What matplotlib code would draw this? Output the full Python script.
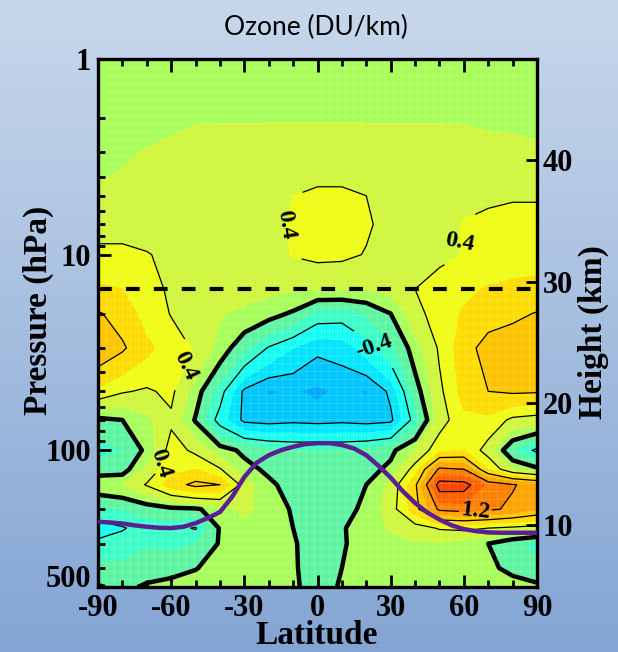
import numpy as np
import matplotlib
matplotlib.use("Agg")
import matplotlib.pyplot as plt
from matplotlib.ticker import FixedLocator, NullFormatter, FixedFormatter
from matplotlib.colors import LinearSegmentedColormap

plt.rcParams['font.family'] = ['Liberation Serif', 'DejaVu Serif']
plt.rcParams['font.weight'] = 'bold'
plt.rcParams['axes.unicode_minus'] = False
plt.rcParams['contour.negative_linestyle'] = 'solid'

# ---------------- data ----------------
lats = [-90, -80, -70, -60, -50, -40, -30, -20, -10, 0, 10, 20, 30, 40, 50, 60, 70, 80, 90]
pressure = [1, 2, 3, 5, 7, 10, 15, 20, 30, 50, 70, 100, 125, 150, 200, 250, 300, 400, 500]

ozone = [
    # -90   -80   -70   -60   -50   -40   -30   -20   -10    0     10    20    30    40    50    60    70    80    90
    [0.10, 0.10, 0.11, 0.11, 0.12, 0.12, 0.12, 0.12, 0.12, 0.12, 0.12, 0.12, 0.12, 0.12, 0.12, 0.12, 0.12, 0.11, 0.11],  # 1
    [0.13, 0.14, 0.15, 0.17, 0.19, 0.19, 0.19, 0.19, 0.19, 0.19, 0.19, 0.19, 0.19, 0.19, 0.19, 0.19, 0.18, 0.18, 0.17],  # 2
    [0.16, 0.18, 0.21, 0.23, 0.25, 0.26, 0.26, 0.27, 0.28, 0.28, 0.28, 0.27, 0.26, 0.26, 0.26, 0.25, 0.24, 0.23, 0.22],  # 3
    [0.22, 0.24, 0.27, 0.29, 0.30, 0.30, 0.31, 0.34, 0.40, 0.44, 0.44, 0.40, 0.34, 0.32, 0.32, 0.36, 0.38, 0.39, 0.39],  # 5
    [0.34, 0.34, 0.33, 0.32, 0.32, 0.32, 0.32, 0.35, 0.42, 0.47, 0.47, 0.42, 0.35, 0.33, 0.34, 0.41, 0.43, 0.44, 0.44],  # 7
    [0.44, 0.44, 0.41, 0.36, 0.33, 0.32, 0.32, 0.34, 0.41, 0.45, 0.44, 0.39, 0.34, 0.33, 0.35, 0.41, 0.46, 0.48, 0.50],  # 10
    [0.64, 0.60, 0.47, 0.37, 0.32, 0.30, 0.28, 0.25, 0.22, 0.20, 0.20, 0.20, 0.26, 0.40, 0.50, 0.56, 0.62, 0.66, 0.68],  # 15
    [0.82, 0.72, 0.52, 0.39, 0.30, 0.22, 0.15, 0.08, -0.03, -0.28, -0.30, -0.18, 0.00, 0.33, 0.50, 0.62, 0.72, 0.76, 0.81],  # 20
    [0.95, 0.83, 0.65, 0.50, 0.38, 0.12, -0.15, -0.42, -0.60, -0.75, -0.72, -0.50, -0.25, 0.10, 0.43, 0.72, 0.88, 0.92, 0.95],  # 30
    [0.55, 0.42, 0.37, 0.45, 0.10, -0.30, -0.85, -1.02, -0.98, -1.05, -0.95, -1.02, -0.75, -0.10, 0.35, 0.68, 0.80, 0.83, 0.82],  # 50
    [-0.05, 0.00, 0.15, 0.36, -0.02, -0.50, -0.85, -0.88, -0.85, -0.87, -0.85, -0.88, -0.85, -0.30, 0.30, 0.55, 0.55, 0.35, 0.30],  # 70
    [-0.30, -0.20, 0.05, 0.50, 0.35, 0.10, -0.05, -0.15, -0.20, -0.20, -0.20, -0.15, -0.05, 0.20, 0.55, 0.60, 0.30, -0.20, -0.45],  # 100
    [-0.10, -0.10, 0.25, 0.55, 0.60, 0.42, 0.08, -0.05, -0.15, -0.15, -0.15, -0.08, 0.05, 0.50, 1.25, 1.20, 0.60, 0.20, 0.05],  # 125
    [0.15, 0.20, 0.42, 0.70, 0.86, 0.80, 0.30, 0.05, -0.10, -0.12, -0.10, 0.00, 0.25, 0.75, 1.72, 1.70, 1.35, 1.22, 1.10],  # 150
    [-0.25, -0.20, -0.12, -0.05, -0.03, 0.10, 0.25, 0.10, -0.02, -0.12, -0.08, 0.05, 0.30, 0.72, 1.25, 1.30, 1.25, 1.15, 1.00],  # 200
    [-0.50, -0.42, -0.30, -0.32, -0.42, 0.02, 0.15, 0.12, 0.00, -0.10, -0.02, 0.10, 0.22, 0.30, 0.42, 0.45, 0.40, 0.35, 0.30],  # 250
    [-0.35, -0.30, -0.22, -0.25, -0.20, 0.02, 0.12, 0.10, 0.02, -0.10, -0.02, 0.08, 0.15, 0.18, 0.18, 0.12, 0.00, -0.15, -0.25],  # 300
    [-0.15, -0.15, -0.10, -0.08, -0.01, 0.08, 0.12, 0.10, 0.02, -0.08, 0.00, 0.10, 0.12, 0.12, 0.10, 0.08, 0.04, -0.05, -0.15],  # 400
    [0.02, -0.05, 0.03, 0.08, 0.10, 0.12, 0.12, 0.10, 0.03, -0.08, 0.02, 0.10, 0.12, 0.12, 0.10, 0.10, 0.10, 0.08, 0.05],  # 500
]

trop_lat = [-90, -85, -80, -75, -70, -65, -60, -55, -50, -45, -40, -35, -30, -25, -20, -15, -10, -5, 0,
            5, 10, 15, 20, 25, 30, 35, 40, 45, 50, 55, 60, 65, 70, 75, 80, 85, 90]
trop_p = [232, 234, 237, 242, 246, 249, 250, 246, 236, 222, 207, 173, 137, 116, 106, 100, 96, 93, 92,
          92, 94, 98, 106, 120, 138, 162, 186, 208, 226, 242, 253, 259, 263, 264, 264, 264, 264]

fill_levels = [-1.2, -1.0, -0.8, -0.6, -0.4, -0.2, 0.0, 0.2, 0.4, 0.6, 0.8, 1.0, 1.2, 1.4, 1.6, 1.8]
fill_colors = ['#00a8ff', '#00c6ff', '#00e4ff', '#16fff0', '#3cffc8', '#5ef5a2',
               '#a8ff5a', '#cff53c', '#effc16', '#ffdc00', '#ffc400', '#ffa400',
               '#ff8000', '#ff6000', '#ff4200']
plain_levels = [-0.8, 0.8, 1.6]
zero_level = [0.0]
# labelled contour levels and where their labels sit (lat, hPa)
lab_m04 = [-0.4]
lab_m04_pos = [(23, 31)]
lab_04 = [0.4]
lab_04_pos = [(-14, 5.0), (58, 8.5), (-54, 37), (-66, 116)]
lab_12 = [1.2]
lab_12_pos = [(65, 208)]

x_ticks = [-90, -60, -30, 0, 30, 60, 90]
x_minor = [-80, -70, -50, -40, -20, -10, 10, 20, 40, 50, 70, 80]
p_ticks = [1, 10, 100, 500]
p_minor = [2, 3, 4, 5, 6, 7, 8, 9, 20, 30, 40, 50, 60, 70, 80, 90, 200, 300, 400]
height_ticks = [10, 20, 30, 40]
scale_height = 7.0
dashed_p = 15

# ---------------- figure ----------------
fig = plt.figure(figsize=(6.18, 6.52), dpi=100)

bg = fig.add_axes([0, 0, 1, 1], zorder=-10)
grad = np.linspace(0, 1, 256).reshape(-1, 1)
bgcmap = LinearSegmentedColormap.from_list('bg', ['#c8d8eb', '#84a5d4'])
bg.imshow(grad, aspect='auto', cmap=bgcmap, extent=[0, 1, 0, 1])
bg.set_axis_off()

ax = fig.add_axes([98/618, 1-587/652, (537-98)/618, (587-59)/652])
Z = np.array(ozone)
ax.contourf(lats, pressure, Z, levels=fill_levels, colors=fill_colors, zorder=1)

# faint grid texture
for xv in np.linspace(-90, 90, 56):
    ax.axvline(xv, color='white', lw=0.6, alpha=0.18, zorder=1.5)
for yv in np.logspace(0, np.log10(500), 67):
    ax.axhline(yv, color='white', lw=0.6, alpha=0.18, zorder=1.5)

thin_kw = dict(colors='k', linewidths=0.9, zorder=3, negative_linestyles='solid')
ax.contour(lats, pressure, Z, levels=plain_levels, **thin_kw)
ax.contour(lats, pressure, Z, levels=zero_level, colors='k', linewidths=3.2, zorder=3)
all_labels = []
for lev, pos in [(lab_m04, lab_m04_pos), (lab_04, lab_04_pos), (lab_12, lab_12_pos)]:
    cs = ax.contour(lats, pressure, Z, levels=lev, **thin_kw)
    all_labels += ax.clabel(cs, manual=pos, inline=True, fmt='%.1f', fontsize=17, inline_spacing=2)
for t in all_labels:
    t.set_fontweight('bold')

ax.plot(trop_lat, trop_p, color='#5b1f94', lw=3.2, zorder=4, solid_capstyle='round')
ax.axhline(dashed_p, color='k', lw=3, ls=(0, (3.3, 3.4)), zorder=4)

ax.set_yscale('log')
ax.set_xlim(-90, 90)
ax.set_ylim(500, 1)

ax.xaxis.set_major_locator(FixedLocator(x_ticks))
ax.xaxis.set_minor_locator(FixedLocator(x_minor))
ax.set_xticklabels([str(v) for v in x_ticks])
ax.yaxis.set_major_locator(FixedLocator(p_ticks))
ax.yaxis.set_major_formatter(FixedFormatter([str(v) for v in p_ticks]))
ax.yaxis.set_minor_locator(FixedLocator(p_minor))
ax.yaxis.set_minor_formatter(NullFormatter())

ax.tick_params(which='both', direction='in', top=True, right=False, width=2, color='k')
ax.tick_params(which='major', length=9, labelsize=22, pad=5)
ax.tick_params(which='minor', length=5)
for s in ax.spines.values():
    s.set_linewidth(2.4)

# lift the bottom pressure label so it sits above the latitude labels
ax.yaxis.get_major_ticks()[-1].label1.set_verticalalignment('baseline')

ax2 = ax.twinx()
ax2.set_yscale('log')
ax2.set_ylim(500, 1)
hp = [1000 * np.exp(-h / scale_height) for h in height_ticks]
ax2.yaxis.set_major_locator(FixedLocator(hp))
ax2.yaxis.set_major_formatter(FixedFormatter([str(h) for h in height_ticks]))
ax2.yaxis.set_minor_locator(FixedLocator([]))
ax2.tick_params(which='major', direction='in', length=8, width=2, labelsize=22, pad=4)
for s in ax2.spines.values():
    s.set_visible(False)

fig.text(316/618, 1-27/652, 'Ozone (DU/km)', ha='center', va='center', fontsize=19,
         family='Lato', weight='normal')
fig.text(317/618, 1-636/652, 'Latitude', ha='center', va='center', fontsize=24, weight='bold')
fig.text(38/618, 1-310/652, 'Pressure (hPa)', ha='center', va='center', fontsize=24,
         weight='bold', rotation=90)
fig.text(593/618, 1-332/652, 'Height (km)', ha='center', va='center', fontsize=24,
         weight='bold', rotation=90)

fig.savefig('out.png', dpi=100)
